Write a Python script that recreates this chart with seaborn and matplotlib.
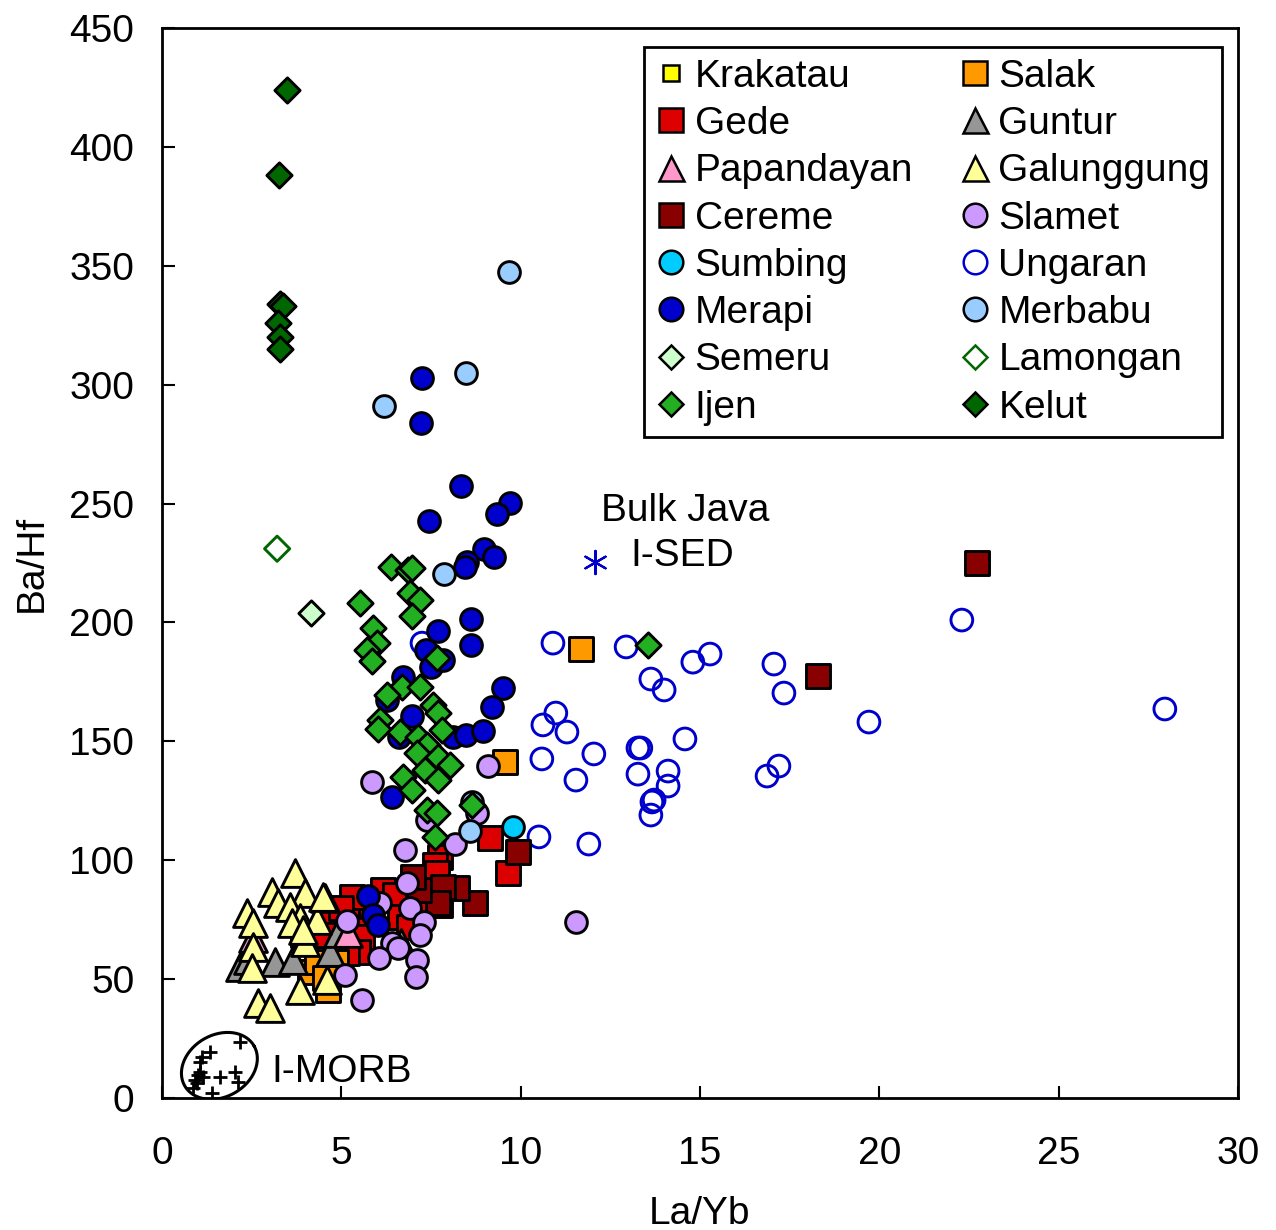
import numpy as np
import pandas as pd
import matplotlib
matplotlib.use("Agg")
import matplotlib.pyplot as plt
from matplotlib.lines import Line2D
import seaborn as sns

# ---- La/Yb vs Ba/Hf for Java volcanoes ----
krakatau_x = [4.95, 4.80]
krakatau_y = [63.0, 64.5]

salak_x = [11.68, 9.56, 4.63, 4.13, 4.32, 4.85, 4.55]
salak_y = [188.8, 141.3, 45.4, 53.0, 57.2, 57.2, 50.5]

gede_x = [9.14, 9.65, 7.75, 7.61, 7.67, 5.38, 5.44, 5.16, 5.33, 5.58, 5.46, 6.16, 6.50,
          6.64, 7.75, 4.77, 4.40, 5.30, 3.93, 4.49, 5.16, 7.14, 5.00, 6.90]
gede_y = [109.3, 94.6, 101.3, 98.0, 94.6, 84.1, 79.9, 76.1, 70.6, 67.7, 61.4, 87.5, 85.4,
          76.1, 81.2, 74.9, 68.5, 84.5, 68.5, 68.5, 61.0, 82.0, 80.0, 72.0]

guntur_x = [2.17, 2.40, 3.15, 3.65, 4.68, 4.91, 6.66]
guntur_y = [55.0, 58.0, 57.0, 58.0, 61.4, 69.4, 65.2]

papandayan_x = [2.54, 5.19]
papandayan_y = [67.3, 69.4]

galunggung_x = [3.71, 3.07, 3.99, 4.54, 3.23, 3.57, 2.37, 3.85, 4.32, 2.54, 3.62, 3.99,
                2.54, 2.51, 4.60, 3.85, 2.68, 3.01, 4.49, 3.93]
galunggung_y = [94.6, 86.6, 86.2, 84.1, 82.0, 80.3, 77.8, 75.7, 74.9, 73.6, 73.6, 65.6,
                63.5, 54.7, 49.6, 45.4, 39.9, 37.8, 84.5, 70.6]

cereme_x = [22.72, 18.29, 9.92, 8.73, 8.22, 7.83, 7.69, 7.16, 7.00]
cereme_y = [225.0, 177.5, 103.4, 82.0, 88.3, 88.7, 82.0, 87.5, 93.0]

slamet_x = [5.85, 9.09, 6.77, 8.17, 7.39, 8.78, 11.54, 5.58, 5.10, 5.16, 6.83, 6.91,
            7.30, 7.19, 6.41, 6.58, 6.05, 7.11, 7.08, 6.08]
slamet_y = [132.9, 139.6, 104.3, 106.8, 116.9, 119.8, 74.0, 41.2, 51.7, 74.4, 90.4, 79.9,
            74.0, 68.5, 65.2, 63.1, 58.9, 58.0, 50.9, 82.0]

sumbing_x = [9.79]
sumbing_y = [114.0]

ungaran_x = [10.90, 12.94, 15.28, 14.80, 17.06, 17.34, 13.63, 14.00, 22.30, 27.96, 19.71,
             10.98, 10.62, 11.29, 10.59, 12.04, 11.54, 13.35, 13.27, 14.58, 13.27, 14.11,
             14.11, 13.72, 13.66, 13.63, 17.20, 16.87, 10.51, 11.90, 7.25]
ungaran_y = [191.3, 189.7, 186.7, 183.3, 182.5, 170.3, 176.2, 171.6, 201.0, 163.6, 158.1,
             161.9, 156.9, 153.9, 142.6, 144.7, 133.7, 147.2, 147.2, 151.0, 136.2, 137.5,
             131.2, 125.3, 124.5, 119.0, 139.6, 135.4, 109.8, 106.8, 191.3]

merapi_x = [7.25, 7.22, 8.34, 9.70, 7.44, 9.34, 8.98, 9.26, 8.50, 8.45, 8.61, 8.61, 7.69,
            7.36, 7.50, 7.83, 6.72, 6.27, 6.97, 6.61, 8.11, 8.47, 8.95, 9.20, 9.51, 6.41,
            5.74, 5.88, 6.02]
merapi_y = [302.8, 283.9, 257.4, 250.2, 242.6, 245.6, 230.9, 227.5, 225.4, 223.3, 201.4,
            190.5, 196.4, 188.4, 181.2, 184.2, 177.0, 167.4, 160.6, 151.8, 151.8, 152.6,
            154.3, 164.4, 172.4, 126.6, 85.0, 77.0, 72.8]

merbabu_x = [9.67, 8.47, 6.19, 7.86, 8.64, 8.59]
merbabu_y = [347.3, 304.9, 291.0, 220.4, 124.5, 112.3]

semeru_x = [4.15]
semeru_y = [204.0]

lamongan_x = [3.21]
lamongan_y = [231.0]

ijen_x = [13.55, 6.38, 6.86, 6.97, 6.91, 7.19, 6.97, 5.52, 5.88, 6.00, 5.71, 5.85, 7.67,
          6.69, 7.19, 6.27, 7.55, 7.69, 6.08, 6.02, 6.64, 7.80, 7.14, 7.39, 7.11, 7.69,
          8.03, 7.33, 6.72, 7.69, 6.97, 7.39, 7.67, 8.64, 7.61]
ijen_y = [190.5, 223.3, 222.0, 222.9, 212.4, 209.4, 202.7, 208.2, 197.6, 191.3, 188.4,
          183.8, 185.0, 172.8, 172.8, 169.5, 165.3, 161.9, 159.0, 155.2, 153.9, 154.8,
          151.8, 148.4, 145.1, 143.4, 140.0, 137.9, 135.0, 133.7, 129.5, 121.1, 119.8,
          123.2, 109.8]

kelut_x = [3.48, 3.27, 3.30, 3.37, 3.24, 3.29, 3.29]
kelut_y = [424.0, 388.0, 334.0, 333.0, 326.0, 320.0, 315.0]

morb_x = [2.17, 1.34, 1.12, 1.06, 1.62, 2.04, 2.12, 1.00, 0.92, 0.86, 1.39, 1.06, 1.14, 0.98]
morb_y = [23.5, 19.3, 17.2, 15.1, 8.8, 10.9, 6.7, 9.7, 7.6, 4.2, 2.1, 10.9, 8.8, 6.3]

bulk_java_x = [12.07]
bulk_java_y = [225.4]

# name, x, y, marker, face, edge, size
groups = [
    ("Ungaran", ungaran_x, ungaran_y, "o", "none", "#0000CC", 245),
    ("Krakatau", krakatau_x, krakatau_y, "s", "#FFFF00", "black", 120),
    ("Gede", gede_x, gede_y, "s", "#DD0000", "black", 280),
    ("Cereme", cereme_x, cereme_y, "s", "#880000", "black", 280),
    ("Salak", salak_x, salak_y, "s", "#FF9900", "black", 280),
    ("Guntur", guntur_x, guntur_y, "^", "#969696", "black", 400),
    ("Papandayan", papandayan_x, papandayan_y, "^", "#FF99CC", "black", 400),
    ("Galunggung", galunggung_x, galunggung_y, "^", "#FFFF99", "black", 400),
    ("Slamet", slamet_x, slamet_y, "o", "#CC99FF", "black", 245),
    ("Merapi", merapi_x, merapi_y, "o", "#0000CC", "black", 245),
    ("Merbabu", merbabu_x, merbabu_y, "o", "#99CCFF", "black", 245),
    ("Sumbing", sumbing_x, sumbing_y, "o", "#00CCFF", "black", 245),
    ("Semeru", semeru_x, semeru_y, "D", "#CCFFCC", "black", 165),
    ("Lamongan", lamongan_x, lamongan_y, "D", "none", "#006600", 165),
    ("Ijen", ijen_x, ijen_y, "D", "#22B022", "black", 165),
    ("Kelut", kelut_x, kelut_y, "D", "#006600", "black", 165),
]

frames = [pd.DataFrame({"volcano": name, "La/Yb": x, "Ba/Hf": y})
          for name, x, y, *_ in groups]
df = pd.concat(frames, ignore_index=True)

sns.set_style("ticks")
plt.rcParams["font.family"] = ["Liberation Sans", "DejaVu Sans"]
plt.rcParams.update({"text.color": "black", "axes.labelcolor": "black",
                     "xtick.color": "black", "ytick.color": "black"})

fig = plt.figure(figsize=(12.76, 12.30), dpi=100)
ax = fig.add_axes([162 / 1276, 1 - 1098 / 1230, (1238 - 162) / 1276, (1098 - 28) / 1230])

style = {}
for name, x, y, marker, face, edge, size in groups:
    sub = df[df["volcano"] == name]
    sns.scatterplot(data=sub, x="La/Yb", y="Ba/Hf", marker=marker, s=size,
                    facecolor=face, edgecolor=edge, linewidth=2.1, ax=ax,
                    legend=False, zorder=3)
    style[name] = (marker, face, edge)

# Bulk Java sediment and Indian MORB field
sns.scatterplot(x=bulk_java_x, y=bulk_java_y, marker=(6, 2, 0), s=280,
                color="#0000CC", edgecolor="#0000CC", linewidth=1.6, ax=ax, legend=False, zorder=4)
sns.scatterplot(x=morb_x, y=morb_y, marker="+", s=90, color="black",
                linewidth=2.0, ax=ax, legend=False, zorder=4)

t = np.linspace(0, 2 * np.pi, 200)
theta = np.deg2rad(30)
a_px, b_px = 40, 31
px_per_x = 1076 / 30
px_per_y = 1070 / 450
ex = 1.60 + (a_px * np.cos(t) * np.cos(theta) - b_px * np.sin(t) * np.sin(theta)) / px_per_x
ey = 13.5 + (a_px * np.cos(t) * np.sin(theta) + b_px * np.sin(t) * np.cos(theta)) / px_per_y
ax.plot(ex, ey, color="black", lw=2.2, zorder=4)

ax.text(3.05, 11.0, "I-MORB", fontsize=28, ha="left", va="center")
ax.text(14.58, 247, "Bulk Java", fontsize=28, ha="center", va="center")
ax.text(14.5, 228, "I-SED", fontsize=28, ha="center", va="center")

ax.set_xlim(0, 30)
ax.set_ylim(0, 450)
ax.set_xticks(np.arange(0, 31, 5))
ax.set_yticks(np.arange(0, 451, 50))
ax.tick_params(axis="both", direction="in", length=9, width=1.5, labelsize=28)
ax.tick_params(axis="x", pad=27)
ax.tick_params(axis="y", pad=20)
ax.set_xlabel("La/Yb", fontsize=28, labelpad=18)
ax.set_ylabel("Ba/Hf", fontsize=28, labelpad=14)
for sp in ax.spines.values():
    sp.set_visible(True)
    sp.set_linewidth(2.0)
    sp.set_color("black")

legend_order = ["Krakatau", "Gede", "Papandayan", "Cereme", "Sumbing", "Merapi", "Semeru", "Ijen",
                "Salak", "Guntur", "Galunggung", "Slamet", "Ungaran", "Merbabu", "Lamongan", "Kelut"]
handles = []
for name in legend_order:
    marker, face, edge = style[name]
    ms = {"o": 17, "s": 17, "^": 18, "D": 12.5}[marker]
    if name == "Krakatau":
        ms = 12
    handles.append(Line2D([], [], linestyle="none", marker=marker, markersize=ms,
                          markerfacecolor=face, markeredgecolor=edge, markeredgewidth=1.8))
leg = ax.legend(handles, legend_order, ncol=2, loc="upper right",
                bbox_to_anchor=(1 - 16 / 1076, 1 - 19 / 1070), fontsize=28,
                frameon=True, fancybox=False, edgecolor="black", framealpha=1,
                handletextpad=0.2, columnspacing=1.2, labelspacing=0.29,
                handlelength=0.8, borderpad=0.3, borderaxespad=0)
leg.get_frame().set_linewidth(2.0)

fig.savefig("out.png", dpi=100)
